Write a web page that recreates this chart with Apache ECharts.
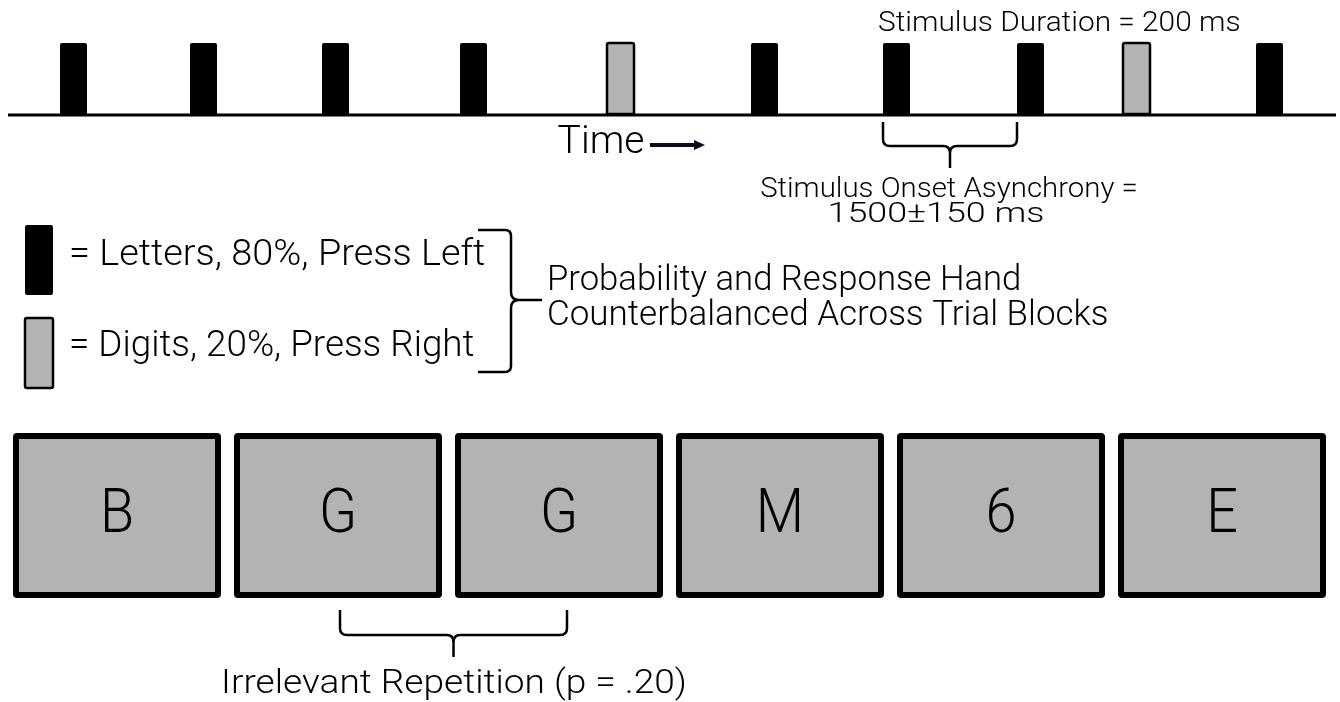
<!DOCTYPE html>
<html>
<head>
<meta charset="utf-8">
<title>Stimulus stream</title>
<script src="https://cdn.jsdelivr.net/npm/echarts@6.0.0/dist/echarts.min.js"></script>
<style>
  html, body { margin: 0; padding: 0; background: #fff; }
  #chart { width: 1340px; height: 702px; }
</style>
</head>
<body>
<div id="chart"></div>
<script>
// stimulus stream: onset of each stimulus along the time line, and its kind
const stimOnsets = [60, 190, 322, 460, 607, 751, 883, 1017, 1123, 1256]
const stimKinds = ['letter', 'letter', 'letter', 'letter', 'digit', 'letter', 'letter', 'letter', 'digit', 'letter']
// example trial sequence
const trialChars = ['B', 'G', 'G', 'M', '6', 'E']
const repeatPair = [1, 2] // trials that form the irrelevant repetition
const soaPair = [6, 7] // stimuli spanned by the SOA brace
// texts
const durationLabel = 'Stimulus Duration = 200 ms'
const timeLabel = 'Time'
const soaLines = ['Stimulus Onset Asynchrony =', '1500±150 ms']
const legendKinds = ['letter', 'digit']
const legendLabels = ['= Letters, 80%, Press Left', '= Digits, 20%, Press Right']
const noteLines = ['Probability and Response Hand', 'Counterbalanced Across Trial Blocks']
const repeatLabel = 'Irrelevant Repetition (p = .20)'

// layout
const FONT = 'Roboto, "Noto Sans", sans-serif'
const BLACK = '#000'
const GRAY = '#b3b3b3'
const STIM_W = 27
const STIM_TOP = 43
const BASE_Y = 114
const BOX_X0 = 13
const BOX_STEP = 221
const BOX_W = 208
const BOX_TOP = 433
const BOX_BOTTOM = 598

const chart = echarts.init(document.getElementById('chart'))

// text mark; sx stretches the text horizontally from its anchor
function label(api, x, y, text, size, align, sx) {
  const p = api.coord([x, y])
  return {
    type: 'text',
    x: p[0],
    y: p[1],
    scaleX: sx || 1,
    style: {
      text: text,
      fill: BLACK,
      font: '300 ' + size + 'px ' + FONT,
      align: align || 'center',
      verticalAlign: 'middle'
    }
  }
}

// horizontal curly brace, arms pointing up, tip pointing down
function hBrace(api, x1, x2, yTop, yBar, yTip) {
  const r = 7
  const a = api.coord([x1, yTop])
  const b = api.coord([x2, yBar])
  const t = api.coord([(x1 + x2) / 2, yTip])
  const xm = t[0]
  const d = [
    'M', a[0], a[1], 'L', a[0], b[1] - r, 'Q', a[0], b[1], a[0] + r, b[1],
    'L', xm - r, b[1], 'Q', xm, b[1], xm, b[1] + r, 'L', xm, t[1],
    'M', xm, b[1] + r, 'Q', xm, b[1], xm + r, b[1],
    'L', b[0] - r, b[1], 'Q', b[0], b[1], b[0], b[1] - r, 'L', b[0], a[1]
  ].join(' ')
  return {
    type: 'path',
    shape: { pathData: d },
    style: { fill: null, stroke: BLACK, lineWidth: 2.5 }
  }
}

const boxCenter = i => BOX_X0 + i * BOX_STEP + BOX_W / 2

const option = {
  animation: false,
  backgroundColor: '#fff',
  grid: { left: 0, right: 0, top: 0, bottom: 0 },
  xAxis: { type: 'value', min: 0, max: 1340, show: false },
  yAxis: { type: 'value', min: 0, max: 702, inverse: true, show: false },
  series: [
    // time line
    {
      type: 'line',
      data: [[8, BASE_Y + 1], [1336, BASE_Y + 1]],
      symbol: 'none',
      lineStyle: { color: BLACK, width: 3 },
      z: 1
    },
    // stimuli on the time line
    {
      type: 'custom',
      data: stimOnsets.map(t => [t, BASE_Y]),
      z: 2,
      renderItem(params, api) {
        const digit = stimKinds[params.dataIndex] === 'digit'
        const a = api.coord([api.value(0), STIM_TOP])
        const b = api.coord([api.value(0) + STIM_W, api.value(1)])
        return {
          type: 'rect',
          shape: { x: a[0], y: a[1], width: b[0] - a[0], height: b[1] - a[1], r: [2, 2, 0, 0] },
          style: digit
            ? { fill: GRAY, stroke: BLACK, lineWidth: 2.5 }
            : { fill: BLACK, stroke: null }
        }
      }
    },
    // time labels, arrow and SOA brace
    {
      type: 'custom',
      data: [[0, 0]],
      z: 3,
      renderItem(params, api) {
        const s0 = stimOnsets[soaPair[0]]
        const s1 = stimOnsets[soaPair[1]]
        const a0 = api.coord([650, 145])
        const a1 = api.coord([697, 145])
        return {
          type: 'group',
          children: [
            label(api, 878, 24, durationLabel, 28, 'left', 1.065),
            label(api, 601, 143, timeLabel, 39),
            {
              type: 'line',
              shape: { x1: a0[0], y1: a0[1], x2: a1[0], y2: a1[1] },
              style: { stroke: '#0b0b1e', lineWidth: 4 }
            },
            {
              type: 'polygon',
              shape: { points: [[a1[0] - 3, a1[1] - 5], [a1[0] + 8, a1[1]], [a1[0] - 3, a1[1] + 5]] },
              style: { fill: '#0b0b1e' }
            },
            hBrace(api, s0, s1, 122, 146, 168),
            label(api, 949, 190, soaLines[0], 28, 'center', 1.05),
            label(api, 936, 215, soaLines[1], 28, 'center', 1.28)
          ]
        }
      }
    },
    // legend swatches and labels
    {
      type: 'custom',
      data: legendKinds.map((k, i) => [i, 0]),
      z: 3,
      renderItem(params, api) {
        const i = params.dataIndex
        const digit = legendKinds[i] === 'digit'
        const top = 225 + i * 93
        const a = api.coord([25, top])
        const b = api.coord([53, top + 70])
        return {
          type: 'group',
          children: [
            {
              type: 'rect',
              shape: { x: a[0], y: a[1], width: b[0] - a[0], height: b[1] - a[1], r: 2 },
              style: digit
                ? { fill: GRAY, stroke: BLACK, lineWidth: 2.5 }
                : { fill: BLACK, stroke: null }
            },
            label(api, 69, 256 + i * 91, legendLabels[i], 36, 'left', i === 0 ? 1.053 : 1.023)
          ]
        }
      }
    },
    // legend brace and note
    {
      type: 'custom',
      data: [[0, 0]],
      z: 3,
      renderItem(params, api) {
        const p = (x, y) => api.coord([x, y])
        const t0 = p(478, 230), c0 = p(511, 236), m0 = p(511, 292)
        const tip = p(542, 300), m1 = p(511, 308), c1 = p(511, 366), t1 = p(478, 372)
        const d = [
          'M', t0[0], t0[1], 'L', c0[0] - 6, t0[1], 'Q', c0[0], t0[1], c0[0], c0[1],
          'L', m0[0], m0[1], 'Q', m0[0], tip[1], m0[0] + 8, tip[1], 'L', tip[0], tip[1],
          'M', m0[0] + 8, tip[1], 'Q', m1[0], tip[1], m1[0], m1[1],
          'L', c1[0], c1[1], 'Q', c1[0], t1[1], c1[0] - 6, t1[1], 'L', t1[0], t1[1]
        ].join(' ')
        return {
          type: 'group',
          children: [
            { type: 'path', shape: { pathData: d }, style: { fill: null, stroke: BLACK, lineWidth: 2.5 } },
            label(api, 547, 281, noteLines[0], 35, 'left', 0.99),
            label(api, 547, 316, noteLines[1], 35, 'left', 1.0)
          ]
        }
      }
    },
    // trial boxes
    {
      type: 'custom',
      data: trialChars.map((c, i) => [i, 0]),
      z: 3,
      renderItem(params, api) {
        const i = params.dataIndex
        const left = BOX_X0 + i * BOX_STEP
        const a = api.coord([left + 3, BOX_TOP + 3])
        const b = api.coord([left + BOX_W - 3, BOX_BOTTOM - 3])
        return {
          type: 'group',
          children: [
            {
              type: 'rect',
              shape: { x: a[0], y: a[1], width: b[0] - a[0], height: b[1] - a[1], r: 1 },
              style: { fill: GRAY, stroke: BLACK, lineWidth: 6 }
            },
            label(api, boxCenter(i), 516, trialChars[i], 62, 'center', 0.9)
          ]
        }
      }
    },
    // repetition brace
    {
      type: 'custom',
      data: [[0, 0]],
      z: 3,
      renderItem(params, api) {
        const x1 = boxCenter(repeatPair[0]) + 2
        const x2 = boxCenter(repeatPair[1]) + 8
        return {
          type: 'group',
          children: [
            hBrace(api, x1, x2, 610, 635, 657),
            label(api, 454, 684, repeatLabel, 34, 'center', 1.09)
          ]
        }
      }
    }
  ]
}

chart.setOption(option)
window.addEventListener('resize', () => chart.resize())
</script>
</body>
</html>
